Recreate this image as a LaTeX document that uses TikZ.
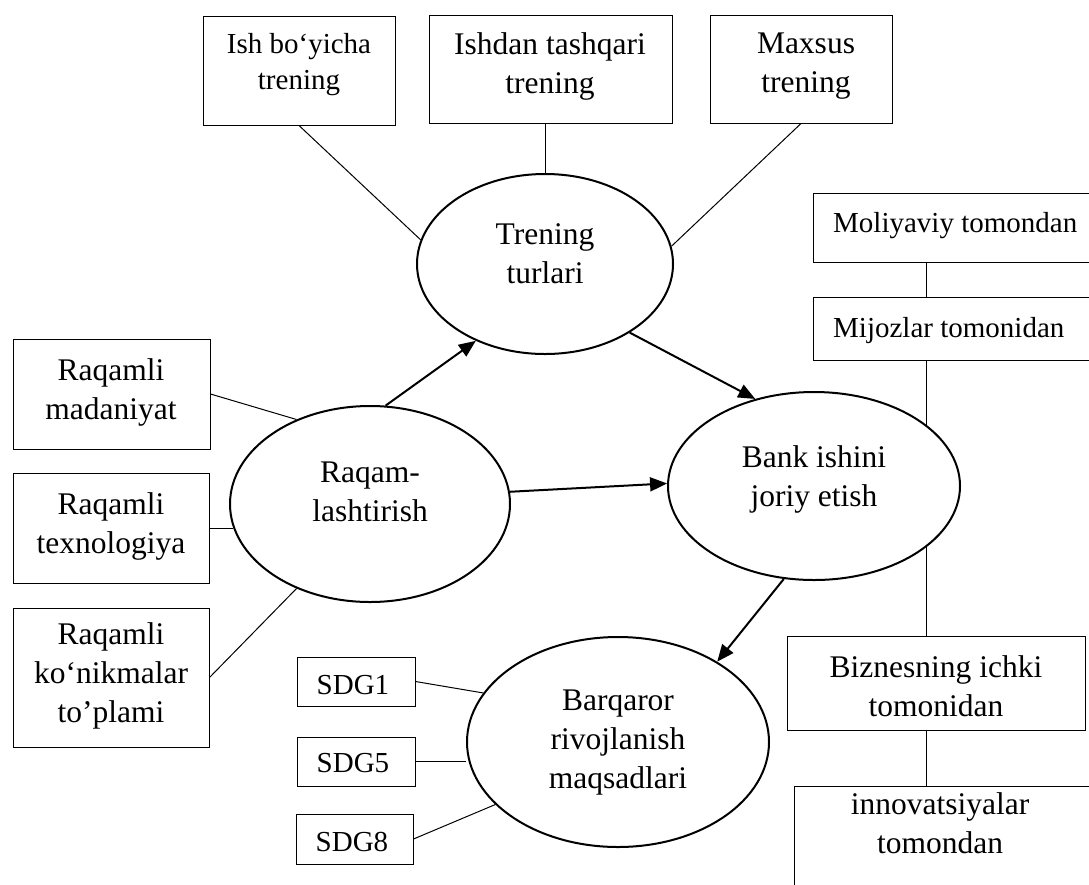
\documentclass[tikz,border=0pt]{standalone}
\usepackage{fontspec}
\setmainfont{Liberation Serif}
\usetikzlibrary{arrows.meta,shapes.geometric}
\pgfdeclarelayer{bg}
\pgfsetlayers{bg,main}
\begin{document}
\begin{tikzpicture}[x=1pt,y=-1pt,
  box/.style={draw, line width=1pt, rectangle, inner sep=0pt, fill=white},
  ell/.style={draw, line width=2pt, ellipse, inner sep=0pt, fill=white},
  txt/.style={inner sep=0pt, align=center, anchor=north, font=\fontsize{31.5}{39}\selectfont},
  stxt/.style={inner sep=0pt, align=center, anchor=north, font=\fontsize{29}{36}\selectfont},
  link/.style={line width=1pt},
  arr/.style={line width=2pt, -{Triangle[length=17pt,width=14pt]}}]
\useasboundingbox (0,0) rectangle (1089,884);
\clip (0,0) rectangle (1089,884);

% top boxes
\node[box, minimum width=192pt, minimum height=109pt] (ish) at (299,70.5) {};
\node[box, minimum width=243pt, minimum height=108pt] (ishdan) at (550.5,69) {};
\node[box, minimum width=182pt, minimum height=108pt] (maxsus) at (801,69) {};
\node[stxt] (ish-t) at (299,33) {Ish bo‘yicha\\trening};
\node[txt] (ishdan-t) at (550,32) {Ishdan tashqari\\trening};
\node[txt] (maxsus-t) at (806,33) {Maxsus\\trening};

% right column
\node[box, minimum width=287pt, minimum height=69pt] (moliya) at (956.5,227.5) {};
\node[box, minimum width=287pt, minimum height=63pt] (mijoz) at (956.5,328.5) {};
\node[box, minimum width=298pt, minimum height=94pt] (biznes) at (936,683) {};
\node[box, minimum width=298pt, minimum height=114pt] (innov) at (943,843) {};
\node[stxt, anchor=north west] (moliya-t) at (833,212) {Moliyaviy tomondan};
\node[stxt, anchor=north west] (mijoz-t) at (833,317) {Mijozlar tomonidan};
\node[txt] (biznes-t) at (936,655) {Biznesning ichki\\tomonidan};
\node[txt] (innov-t) at (940,792) {innovatsiyalar\\tomondan};

% left boxes
\node[box, minimum width=197pt, minimum height=110pt] (mad) at (111.5,394) {};
\node[box, minimum width=196pt, minimum height=110pt] (tex) at (111,528) {};
\node[box, minimum width=196pt, minimum height=139pt] (kon) at (111,677.5) {};
\node[txt] (mad-t) at (111,358) {Raqamli\\madaniyat};
\node[txt] (tex-t) at (111,492) {Raqamli\\texnologiya};
\node[txt] (kon-t) at (111,622) {Raqamli\\ko‘nikmalar\\to’plami};

% SDG boxes
\node[box, minimum width=118pt, minimum height=49pt] (s1) at (356,681.5) {};
\node[box, minimum width=118pt, minimum height=49pt] (s5) at (356,761.5) {};
\node[box, minimum width=117pt, minimum height=50pt] (s8) at (354.5,839) {};
\node[stxt] (s1-t) at (353,675) {SDG1};
\node[stxt] (s5-t) at (353,753) {SDG5};
\node[stxt] (s8-t) at (352,832) {SDG8};

% ellipses
\node[ell, minimum width=256pt, minimum height=180pt] (tren) at (545,264) {};
\node[ell, minimum width=280pt, minimum height=196pt] (raq) at (370,504) {};
\node[ell, minimum width=292pt, minimum height=188pt] (bank) at (814,486) {};
\node[ell, minimum width=302pt, minimum height=210pt] (barq) at (618,742) {};
\node[txt] (tren-t) at (545,223) {Trening\\turlari};
\node[txt] (raq-t) at (370,462) {Raqam-\\lashtirish};
\node[txt] (bank-t) at (814,445) {Bank ishini\\joriy etish};
\node[txt] (barq-t) at (618,690) {Barqaror\\rivojlanish\\maqsadlari};

\coordinate (vx) at (926,0);

\begin{pgfonlayer}{bg}
\draw[link] (ish.south) -- (tren.169);
\draw[link] (ishdan.south -| tren.north) -- (tren.north);
\draw[link] (maxsus.south) -- (tren.8);
\draw[link] (mad.east) -- (raq.131);
\draw[link] (tex.east) -- (tex.east -| raq.190);
\draw[link] (kon.east) -- (raq.229);
\draw[link] (s1.east) -- (barq.160);
\draw[link] (s5.east) -- (s5.east -| barq.west);
\draw[link] (s8.east) -- (barq.207);
\draw[link] (moliya.south -| vx) -- (mijoz.north -| vx);
\draw[link] (mijoz.south -| vx) -- (biznes.north -| vx);
\draw[link] (biznes.south -| vx) -- (innov.north -| vx);
\end{pgfonlayer}

\draw[arr] (raq.81) -- (tren.228);
\draw[arr] (tren.321) -- (bank.124);
\draw[arr] (raq.5) -- (bank.179);
\draw[arr] (bank.252) -- (barq.39);
\end{tikzpicture}
\end{document}
